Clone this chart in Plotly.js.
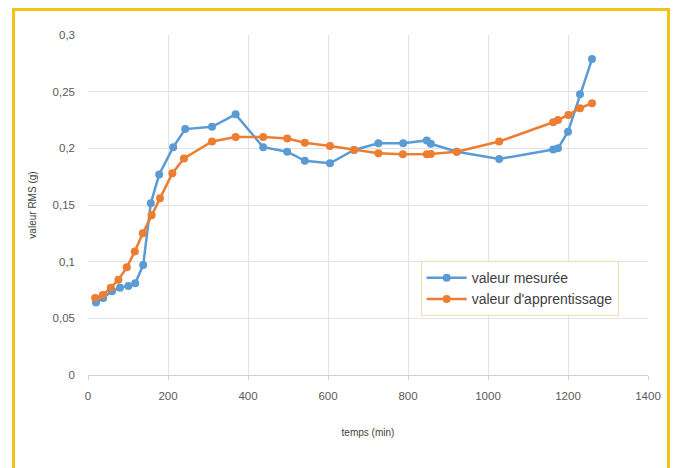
<!DOCTYPE html>
<html>
<head>
<meta charset="utf-8">
<script src="https://cdn.plot.ly/plotly-3.0.1.min.js"></script>
<style>
html,body{margin:0;padding:0;background:#fff;}
#frame{position:absolute;left:12px;top:8px;width:658px;height:470px;border-top:3px solid #f2c21b;border-left:3px solid #f2c21b;border-right:3px solid #f2c21b;box-sizing:border-box;}
#chart{position:absolute;left:0;top:0;width:677px;height:468px;}
</style>
</head>
<body>
<div id="frame"></div>
<div id="chart"></div>
<script>
// valeur mesurée
const xMes = [20, 38, 60, 80, 101, 118, 138, 157, 178, 213, 243, 310, 369, 438, 498, 542, 605, 665, 726, 788, 847, 857, 922, 1028, 1163, 1175, 1200, 1230, 1260];
const yMes = [0.064, 0.068, 0.074, 0.077, 0.0786, 0.081, 0.097, 0.1515, 0.177, 0.201, 0.217, 0.219, 0.230, 0.201, 0.197, 0.189, 0.1868, 0.1986, 0.2045, 0.2045, 0.207, 0.204, 0.197, 0.1906, 0.199, 0.200, 0.2147, 0.2477, 0.2788];
// valeur d'apprentissage
const xApp = [18, 37, 57, 76, 97, 117, 137, 159, 180, 211, 240, 310, 369, 438, 498, 542, 605, 665, 726, 787, 847, 857, 922, 1028, 1163, 1175, 1201, 1230, 1260];
const yApp = [0.068, 0.0705, 0.077, 0.084, 0.095, 0.109, 0.125, 0.141, 0.156, 0.178, 0.191, 0.206, 0.210, 0.210, 0.2086, 0.205, 0.202, 0.1986, 0.1956, 0.1948, 0.1948, 0.195, 0.197, 0.206, 0.223, 0.225, 0.2295, 0.2354, 0.2398];

const blue = '#5b9bd5', orange = '#ed7d31';
const data = [
  {x: xMes, y: yMes, name: 'valeur mesurée', mode: 'lines+markers', type: 'scatter',
   line: {color: blue, width: 2.5}, marker: {color: blue, size: 8}},
  {x: xApp, y: yApp, name: "valeur d'apprentissage", mode: 'lines+markers', type: 'scatter',
   line: {color: orange, width: 2.5}, marker: {color: orange, size: 8}}
];
const tickFont = {family: 'Liberation Sans, Arial, sans-serif', size: 11.5, color: '#595959'};
const layout = {
  width: 677, height: 468,
  paper_bgcolor: 'rgba(0,0,0,0)', plot_bgcolor: '#fff',
  margin: {l: 88, r: 29, t: 35, b: 93},
  separators: ', ',
  showlegend: true,
  legend: {x: 0.594, y: 0.335, xanchor: 'left', yanchor: 'top', bgcolor: '#fff',
    bordercolor: '#f3dfae', borderwidth: 1, itemwidth: 40,
    font: {family: 'Liberation Sans, Arial, sans-serif', size: 14, color: '#404040'},
    tracegroupgap: 2},
  xaxis: {range: [0, 1400], dtick: 200, tick0: 0, showgrid: true, gridcolor: '#e3e3e3',
    zeroline: false, showline: true, linecolor: '#d0d0d0', ticks: 'outside', ticklen: 4,
    tickcolor: '#d0d0d0', tickfont: tickFont, ticklabelstandoff: 6,
    title: {text: 'temps (min)', font: {family: 'Liberation Sans, Arial, sans-serif', size: 10, color: '#404040'}, standoff: 28}},
  yaxis: {range: [0, 0.3], dtick: 0.05, tick0: 0, showgrid: true, gridcolor: '#e3e3e3',
    zeroline: false, showline: false, tickfont: tickFont, ticks: '', ticklabelstandoff: 12,
    title: {text: 'valeur RMS (g)', font: {family: 'Liberation Sans, Arial, sans-serif', size: 10, color: '#404040'}, standoff: 14}}
};
Plotly.newPlot('chart', data, layout, {displayModeBar: false, staticPlot: true});
</script>
</body>
</html>
